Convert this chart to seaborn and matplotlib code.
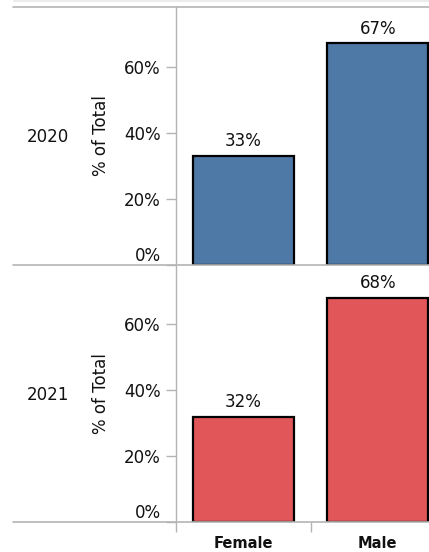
import matplotlib
matplotlib.use("Agg")
import matplotlib.pyplot as plt
from matplotlib.lines import Line2D
import seaborn as sns
import pandas as pd

# Share of total by gender, per year
years = ["2020", "2021"]
genders = ["Female", "Male"]
pct_2020 = [33, 67]
pct_2021 = [32, 68]
year_colors = {"2020": "#4e79a7", "2021": "#e15759"}
y_ticks = [0, 20, 40, 60]

df = pd.DataFrame({
    "Year": [years[0]] * 2 + [years[1]] * 2,
    "Gender": genders * 2,
    "Pct": pct_2020 + pct_2021,
})

sns.set_theme(style="white")
plt.rcParams["font.family"] = ["DejaVu Sans"]

W, H = 429, 552
fig = plt.figure(figsize=(W / 100, H / 100), dpi=100)

grid = "#b4b4b4"
ink = "#111111"
fs = 12
axis_left = 176
axis_right = 445
rows = [(7, 265), (265, 522)]


def fx(px):
    return px / W


def fy(py):
    return 1 - py / H


for i, (year, (top, bottom)) in enumerate(zip(years, rows)):
    ax = fig.add_axes([fx(axis_left), fy(bottom), (axis_right - axis_left) / W,
                       (bottom - top) / H])
    sub = df[df["Year"] == year]
    sns.barplot(data=sub, x="Gender", y="Pct", order=genders, ax=ax,
                color=year_colors[year], saturation=1, width=0.75,
                edgecolor="black", linewidth=1.6, errorbar=None)
    ax.set_xlim(-0.5, 1.5)
    ax.set_ylim(0, 78)
    ax.bar_label(ax.containers[0], labels=[f"{v}%" for v in sub["Pct"]],
                 padding=4, fontsize=fs, color=ink)

    ax.set_yticks(y_ticks)
    ax.set_yticklabels([f"{t}%" for t in y_ticks])
    ax.tick_params(axis="y", length=7.5, width=1, color=grid, pad=3.5,
                   labelsize=fs, labelcolor=ink, left=True)
    ax.get_yticklabels()[0].set_verticalalignment("bottom")

    for side in ["top", "right", "bottom"]:
        ax.spines[side].set_visible(False)
    ax.spines["left"].set_color(grid)
    ax.spines["left"].set_linewidth(1)

    ax.set_ylabel("% of Total", fontsize=fs, color=ink)
    ax.yaxis.set_label_coords((110 - axis_left) / (axis_right - axis_left), 0.5)

    if i == 0:
        ax.set_xticks([])
        ax.set_xlabel("")
    else:
        ax.set_xticks([0, 1])
        ax.set_xticklabels(genders, fontweight="bold")
        ax.tick_params(axis="x", length=0, pad=10, labelsize=10.5,
                       labelcolor=ink)
        ax.set_xticks([-0.5, 0.5], minor=True)
        ax.tick_params(axis="x", which="minor", length=7.5, width=1,
                       color=grid, bottom=True)
        ax.set_xlabel("")

    fig.text(fx(48), fy((top + bottom) / 2 + 1), year, ha="center", va="center",
             fontsize=fs, color=ink)

# Header and row separators
fig.add_artist(Line2D([fx(14), 1], [fy(0.5), fy(0.5)], color="#ececec", lw=1.5))
for yy in [7, 265, 522]:
    fig.add_artist(Line2D([fx(13), 1], [fy(yy), fy(yy)], color=grid, lw=1.2))

fig.savefig("out.png", dpi=100)
